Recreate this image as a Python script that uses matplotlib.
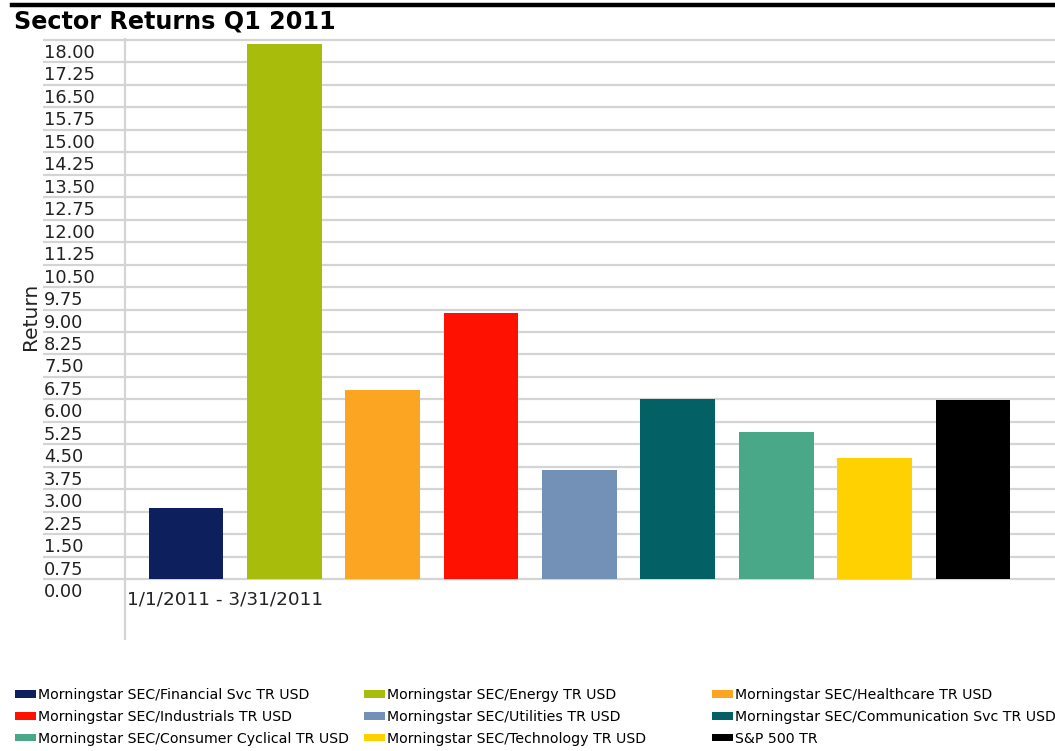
import numpy as np
import matplotlib
matplotlib.use("Agg")
import matplotlib.pyplot as plt
from matplotlib.patches import Patch
from matplotlib.lines import Line2D
from matplotlib.transforms import blended_transform_factory, ScaledTranslation

# ---- data ----
title = "Sector Returns Q1 2011"
period = "1/1/2011 - 3/31/2011"
series = [
    "Morningstar SEC/Financial Svc TR USD",
    "Morningstar SEC/Energy TR USD",
    "Morningstar SEC/Healthcare TR USD",
    "Morningstar SEC/Industrials TR USD",
    "Morningstar SEC/Utilities TR USD",
    "Morningstar SEC/Communication Svc TR USD",
    "Morningstar SEC/Consumer Cyclical TR USD",
    "Morningstar SEC/Technology TR USD",
    "S&P 500 TR",
]
returns = [2.38, 17.86, 6.31, 8.87, 3.65, 6.00, 4.90, 4.04, 5.97]
colors = ["#0d1f5c", "#a8bc0c", "#fba522", "#ff1100", "#7390b6",
          "#036166", "#48a887", "#ffd100", "#000000"]
yticks = np.arange(0, 18.01, 0.75)
ytick_labels = [f"{v:.2f}" for v in yticks]

W, H, DPI = 1055, 751, 100
fig = plt.figure(figsize=(W / DPI, H / DPI), dpi=DPI)

ax_left, ax_right = 43, 1055
ax_top, ax_bottom = 38, 640
ax = fig.add_axes([ax_left / W, 1 - ax_bottom / H,
                   (ax_right - ax_left) / W, (ax_bottom - ax_top) / H])

px_per_unit = (579 - 40) / 18.0
ax.set_ylim(-(ax_bottom - 579) / px_per_unit, 18 + (40 - ax_top) / px_per_unit)
spacing = 98.4
first_center = 186
ax.set_xlim(-(first_center - ax_left) / spacing, 8 + (ax_right - 973) / spacing)

x = np.arange(len(returns))
ax.bar(x, returns, width=0.76, color=colors, zorder=3, linewidth=0)

for v in yticks:
    ax.axhline(v, color="#d4d4d4", lw=1.6, zorder=1)

vline_x = (125 - first_center) / spacing
ax.axvline(vline_x, color="#d4d4d4", lw=1.6, zorder=1)

for s in ax.spines.values():
    s.set_visible(False)
ax.set_xticks([])
ax.set_yticks([])

tr = blended_transform_factory(ax.transAxes, ax.transData) + \
    ScaledTranslation(0, -13 / DPI, fig.dpi_scale_trans)
for v, lab in zip(yticks, ytick_labels):
    ax.text(0.001, v, lab, transform=tr, ha="left", va="center",
            fontsize=12.8, color="#222222", family="DejaVu Sans")

tr2 = ax.transData + ScaledTranslation(0, -21 / DPI, fig.dpi_scale_trans)
ax.text(vline_x + 0.02, 0, period, transform=tr2, ha="left", va="center",
        fontsize=13.2, color="#222222")

fig.text(30 / W, 1 - 316 / H, "Return", rotation=90, ha="center", va="center",
         fontsize=14.5, color="#222222")
fig.text(14 / W, 1 - 22 / H, title, ha="left", va="center",
         fontsize=17.2, fontweight="bold", color="black")
fig.add_artist(Line2D([12 / W, 1], [1 - 5 / H, 1 - 5 / H], color="black",
                      lw=3.2, transform=fig.transFigure))

# legends: three columns, row-major order
col_x = [15, 364, 712]
handles = [Patch(facecolor=c, edgecolor="none") for c in colors]
for ci in range(3):
    idx = [ci, ci + 3, ci + 6]
    fig.legend([handles[i] for i in idx], [series[i] for i in idx],
               loc="upper left", bbox_to_anchor=(col_x[ci] / W, 1 - 688 / H),
               frameon=False, borderpad=0, borderaxespad=0,
               handlelength=1.5, handleheight=0.45, handletextpad=0.15,
               labelspacing=0.55,
               prop={"family": "DejaVu Sans", "size": 10.2})

fig.savefig("out.png", dpi=DPI, facecolor="white")
